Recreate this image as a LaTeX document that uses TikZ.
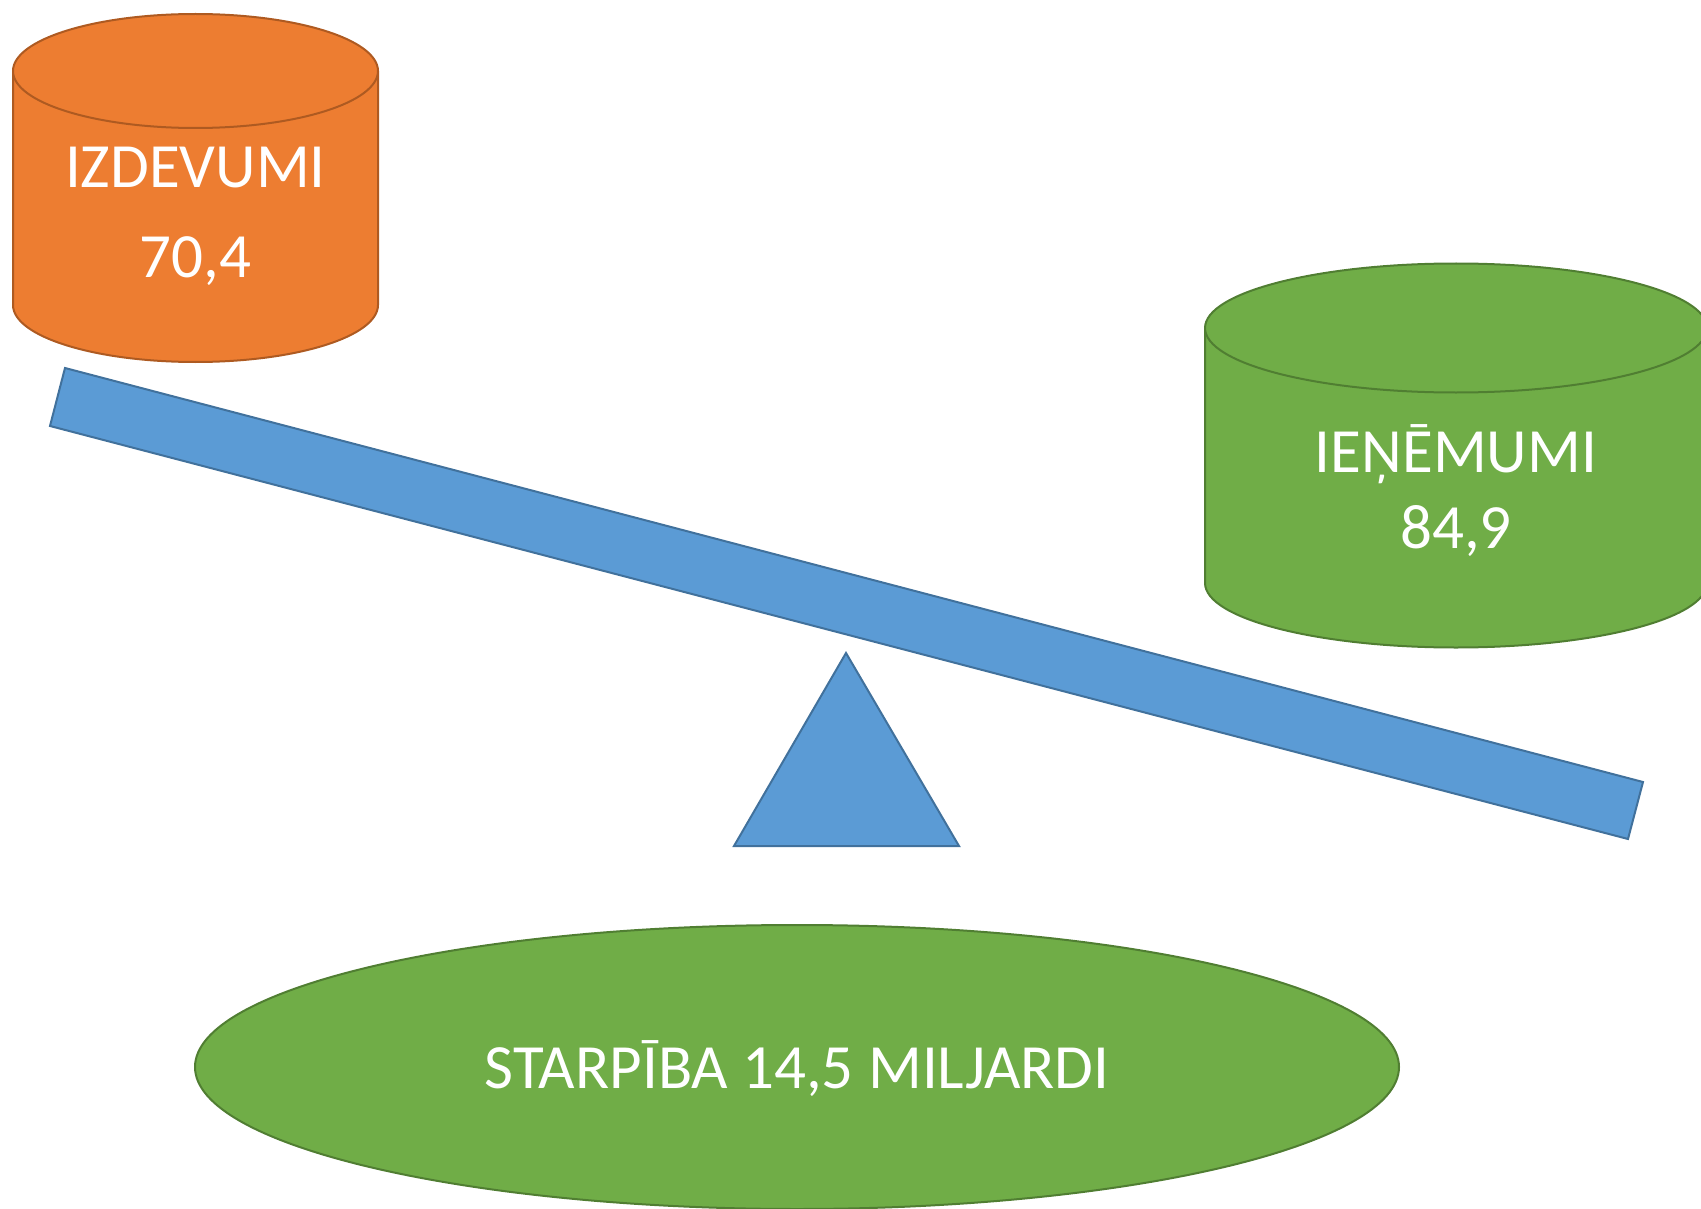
\documentclass[tikz,border=0pt]{standalone}
\usepackage{fontspec}
\setmainfont{Carlito}
\definecolor{orfill}{HTML}{ED7D31}
\definecolor{ordraw}{HTML}{AE5A21}
\definecolor{grfill}{HTML}{70AD47}
\definecolor{grdraw}{HTML}{507E32}
\definecolor{blfill}{HTML}{5B9BD5}
\definecolor{bldraw}{HTML}{41719C}
\tikzset{
  orshape/.style={fill=orfill, draw=ordraw, line width=2pt, line join=round},
  grshape/.style={fill=grfill, draw=grdraw, line width=2pt, line join=round},
  blshape/.style={fill=blfill, draw=bldraw, line width=2pt, line join=miter},
  lbl/.style={text=white, anchor=base, inner sep=0pt, font=\fontsize{63}{76}\selectfont}
}
\begin{document}
\begin{tikzpicture}[x=1pt, y=-1pt]
\useasboundingbox (0,0) rectangle (1701,1209);
% orange cylinder
\draw[orshape] (13,71) -- (13,305) arc[start angle=180, end angle=0, x radius=182.5, y radius=57] -- (378,71) -- cycle;
\draw[orshape] (195.5,71) ellipse[x radius=182.5, y radius=57];
\node[lbl] (izd) at (195.5,188) {IZDEVUMI};
\node[lbl] (izdv) at (195.5,277) {70,4};
% green cylinder
\draw[grshape] (1205,328) -- (1205,583) arc[start angle=180, end angle=0, x radius=251, y radius=64.5] -- (1707,328) -- cycle;
\draw[grshape] (1456,328) ellipse[x radius=251, y radius=64.5];
\node[lbl] (ien) at (1456,472) {IEŅĒMUMI};
\node[lbl] (ienv) at (1456,548) {84,9};
% beam
\draw[blshape] (65,368) -- (1643,782) -- (1628,839) -- (50,426) -- cycle;
% fulcrum
\draw[blshape] (846,653) -- (959,846) -- (734,846) -- cycle;
% bottom ellipse
\draw[grshape] (797,1067) ellipse[x radius=602, y radius=142];
\node[lbl] (diff) at (797,1088) {STARPĪBA 14,5 MILJARDI};
\end{tikzpicture}
\end{document}
